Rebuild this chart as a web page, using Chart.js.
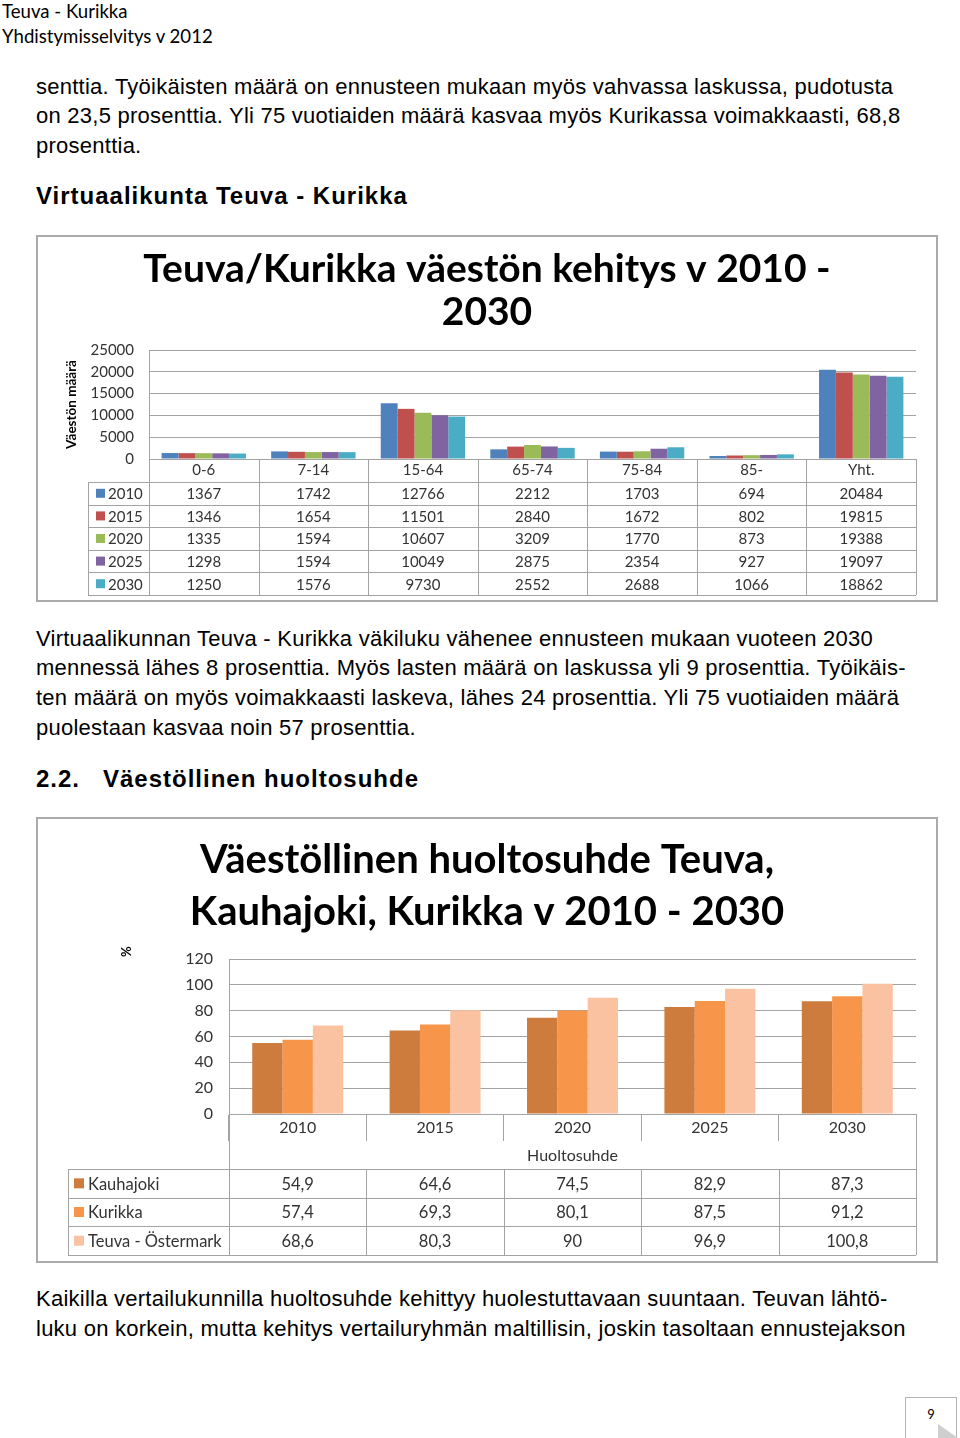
<!DOCTYPE html>
<html>
<head>
<meta charset="utf-8">
<script src="https://cdn.jsdelivr.net/npm/chart.js@4.4.1/dist/chart.umd.min.js"></script>
<style>
  body { margin: 0; background: #fff; }
  #page { position: relative; width: 960px; height: 1438px; overflow: hidden; background: #fff; }
  .hdr { position: absolute; left: 2px; font-family: Lato, sans-serif; font-size: 18.6px; line-height: 24px; color: #000; white-space: nowrap; }
  .txt { position: absolute; left: 36px; font-family: "Liberation Sans", Arial, sans-serif; font-size: 22px; letter-spacing: 0.25px; line-height: 30px; color: #000; white-space: nowrap; }
  .h { font-weight: bold; font-size: 24px; letter-spacing: 1px; }
  .box { position: absolute; left: 36px; width: 902px; box-sizing: border-box; border: 2px solid #ababab; background: #fff; }
  .box canvas { display: block; }
  #pnum { position: absolute; left: 905px; top: 1397px; width: 52px; height: 45px; box-sizing: border-box; border: 1px solid #b5b5b5; font-family: Lato, sans-serif; font-size: 13px; text-align: center; line-height: 32px; }
  #fold { position: absolute; left: 938px; top: 1424px; width: 0; height: 0; border-left: 20px solid #cfcfcf; border-top: 14px solid transparent; }
</style>
</head>
<body>
<div id="page">
  <div class="hdr" style="top:-1px">Teuva - Kurikka</div>
  <div class="hdr" style="top:24px">Yhdistymisselvitys v 2012</div>

  <div class="txt" style="top:72px">senttia. Työikäisten määrä on ennusteen mukaan myös vahvassa laskussa, pudotusta</div>
  <div class="txt" style="top:101px">on 23,5 prosenttia. Yli 75 vuotiaiden määrä kasvaa myös Kurikassa voimakkaasti, 68,8</div>
  <div class="txt" style="top:131px">prosenttia.</div>
  <div class="txt h" style="top:181px">Virtuaalikunta Teuva - Kurikka</div>

  <div class="box" style="top:235px; height:367px"><canvas id="vaesto" width="898" height="363"></canvas></div>

  <div class="txt" style="top:624px">Virtuaalikunnan Teuva - Kurikka väkiluku vähenee ennusteen mukaan vuoteen 2030</div>
  <div class="txt" style="top:653px">mennessä lähes 8 prosenttia. Myös lasten määrä on laskussa yli 9 prosenttia. Työikäis-</div>
  <div class="txt" style="top:683px">ten määrä on myös voimakkaasti laskeva, lähes 24 prosenttia. Yli 75 vuotiaiden määrä</div>
  <div class="txt" style="top:713px">puolestaan kasvaa noin 57 prosenttia.</div>
  <div class="txt h" style="top:764px">2.2.</div>
  <div class="txt h" style="top:764px; left:103px">Väestöllinen huoltosuhde</div>

  <div class="box" style="top:817px; height:446px"><canvas id="huolto" width="898" height="442"></canvas></div>

  <div class="txt" style="top:1284px">Kaikilla vertailukunnilla huoltosuhde kehittyy huolestuttavaan suuntaan. Teuvan lähtö-</div>
  <div class="txt" style="top:1314px">luku on korkein, mutta kehitys vertailuryhmän maltillisin, joskin tasoltaan ennustejakson</div>

  <div id="pnum">9</div>
  <div id="fold"></div>
</div>

<script>
// Väestö 2010 - 2030 (Teuva/Kurikka)
const ikaryhmat = ["0-6", "7-14", "15-64", "65-74", "75-84", "85-", "Yht."];
const vuodet1 = ["2010", "2015", "2020", "2025", "2030"];
const v2010 = [1367, 1742, 12766, 2212, 1703, 694, 20484];
const v2015 = [1346, 1654, 11501, 2840, 1672, 802, 19815];
const v2020 = [1335, 1594, 10607, 3209, 1770, 873, 19388];
const v2025 = [1298, 1594, 10049, 2875, 2354, 927, 19097];
const v2030 = [1250, 1576, 9730, 2552, 2688, 1066, 18862];
const vaestoTicks = [0, 5000, 10000, 15000, 20000, 25000];

// Huoltosuhde
const vuodet2 = ["2010", "2015", "2020", "2025", "2030"];
const kunnat = ["Kauhajoki", "Kurikka", "Teuva - Östermark"];
const kauhajoki = [54.9, 64.6, 74.5, 82.9, 87.3];
const kurikka = [57.4, 69.3, 80.1, 87.5, 91.2];
const teuva = [68.6, 80.3, 90, 96.9, 100.8];
const huoltoTicks = [0, 20, 40, 60, 80, 100, 120];

const varit1 = ["#4f81bd", "#c0504d", "#9bbb59", "#8064a2", "#4bacc6"];
const varit2 = ["#cd7c3d", "#f7964a", "#fbc2a2"];
const viiva = "#a3a3a3";
const tekstiVari = "#333333";
const fontti = "Lato, 'Open Sans', sans-serif";

Chart.defaults.font.family = fontti;
Chart.defaults.color = tekstiVari;

// piirtää taulukon x-akselin alle (kuten Excelin datataulukko)
const taulukkoPlugin = {
  id: "taulukko",
  afterDraw(chart, args, opts) {
    const ctx = chart.ctx;
    const area = chart.chartArea;
    const x = chart.scales.x;
    const n = chart.data.labels.length;
    const colW = (area.right - area.left) / n;
    const y0 = area.bottom;
    const tTop = y0 + opts.headerH;
    const rows = chart.data.datasets.length;
    const tBottom = tTop + rows * opts.rowH;

    ctx.save();
    ctx.strokeStyle = viiva;
    ctx.lineWidth = 1;
    ctx.beginPath();
    // vaakaviivat
    for (let r = 0; r <= rows; r++) {
      const yy = Math.round(tTop + r * opts.rowH) + 0.5;
      ctx.moveTo(opts.labelLeft, yy);
      ctx.lineTo(area.right, yy);
    }
    // pystyviivat
    for (let k = 0; k <= n; k++) {
      const xx = Math.round(area.left + k * colW) + 0.5;
      const top = (k === 0 || k === n) ? y0 : y0 + opts.innerTop;
      ctx.moveTo(xx, top);
      ctx.lineTo(xx, tBottom);
    }
    ctx.moveTo(opts.labelLeft + 0.5, tTop);
    ctx.lineTo(opts.labelLeft + 0.5, tBottom);
    ctx.stroke();

    ctx.font = opts.fontSize + "px " + fontti;
    ctx.textBaseline = "middle";
    chart.data.datasets.forEach(function (ds, r) {
      const cy = tTop + (r + 0.5) * opts.rowH;
      ctx.fillStyle = ds.backgroundColor;
      ctx.fillRect(opts.labelLeft + opts.boxOff, cy - opts.boxSize / 2, opts.boxSize, opts.boxSize);
      ctx.fillStyle = tekstiVari;
      ctx.textAlign = "left";
      ctx.fillText(ds.label, opts.labelLeft + opts.textOff, cy + 1);
      ctx.textAlign = "center";
      ds.data.forEach(function (v, i) {
        ctx.fillText(opts.format(v), x.getPixelForValue(i), cy + 1);
      });
    });

    // y-akselin nimi akselin yläpäähän (vain huoltosuhde)
    if (opts.yNimi) {
      ctx.translate(opts.yNimi.x, area.top + opts.yNimi.dy);
      ctx.rotate(-Math.PI / 2);
      ctx.font = "bold 13px " + fontti;
      ctx.fillStyle = "#000";
      ctx.textAlign = "left";
      ctx.fillText(opts.yNimi.text, 0, 0);
    }
    ctx.restore();
  }
};

function fixWidth(w) {
  return function (scale) { scale.width = w; };
}
function fixHeight(h) {
  return function (scale) { scale.height = h; };
}

new Chart(document.getElementById("vaesto"), {
  type: "bar",
  data: {
    labels: ikaryhmat,
    datasets: [v2010, v2015, v2020, v2025, v2030].map(function (d, i) {
      return { label: vuodet1[i], data: d, backgroundColor: varit1[i], borderWidth: 0,
               categoryPercentage: 0.77, barPercentage: 1 };
    })
  },
  options: {
    responsive: false,
    animation: false,
    devicePixelRatio: 1,
    layout: { padding: { left: 20, right: 20, top: 0, bottom: 5 } },
    plugins: {
      legend: { display: false },
      tooltip: { enabled: false },
      title: {
        display: true,
        text: ["Teuva/Kurikka väestön kehitys v 2010 -", "2030"],
        color: "#000",
        font: { size: 39, weight: "bold", lineHeight: 43 / 39 },
        padding: { top: 10.5, bottom: 16.5 }
      },
      taulukko: {
        headerH: 23, rowH: 22.6, innerTop: 0, labelLeft: 50,
        boxOff: 8, boxSize: 9, textOff: 20, fontSize: 15,
        format: function (v) { return String(v); }
      }
    },
    scales: {
      x: {
        grid: { display: false, drawTicks: false },
        border: { display: true, color: viiva },
        ticks: { font: { size: 15 }, padding: 2.5, color: tekstiVari, maxRotation: 0 },
        afterFit: fixHeight(136)
      },
      y: {
        min: 0, max: 25000,
        afterBuildTicks: function (scale) { scale.ticks = vaestoTicks.map(function (v) { return { value: v }; }); },
        grid: { color: viiva, drawTicks: false },
        border: { display: true, color: viiva },
        ticks: { font: { size: 15 }, padding: 15, color: tekstiVari,
                 callback: function (v) { return String(v); } },
        title: { display: true, text: "Väestön määrä", color: "#000",
                 font: { size: 13.5, weight: "bold" }, padding: { top: 6, bottom: 0 } },
        afterFit: fixWidth(91)
      }
    }
  },
  plugins: [taulukkoPlugin]
});

new Chart(document.getElementById("huolto"), {
  type: "bar",
  data: {
    labels: vuodet2,
    datasets: [kauhajoki, kurikka, teuva].map(function (d, i) {
      return { label: kunnat[i], data: d, backgroundColor: varit2[i], borderWidth: 0,
               categoryPercentage: 0.662, barPercentage: 1 };
    })
  },
  options: {
    responsive: false,
    animation: false,
    devicePixelRatio: 1,
    layout: { padding: { left: 20, right: 20, top: 0, bottom: 6 } },
    plugins: {
      legend: { display: false },
      tooltip: { enabled: false },
      title: {
        display: true,
        text: ["Väestöllinen huoltosuhde Teuva,", "Kauhajoki, Kurikka v 2010 - 2030"],
        color: "#000",
        font: { size: 40, weight: "bold", lineHeight: 52 / 40 },
        padding: { top: 15, bottom: 21 }
      },
      taulukko: {
        headerH: 55, rowH: 28.67, innerTop: 55, labelLeft: 30,
        boxOff: 6, boxSize: 10, textOff: 20, fontSize: 16.5,
        format: function (v) { return String(v).replace(".", ","); },
        yNimi: { text: "%", x: 89, dy: -2 }
      }
    },
    scales: {
      x: {
        grid: { display: true, drawOnChartArea: false, drawTicks: true, tickLength: 27, color: viiva },
        border: { display: true, color: viiva },
        ticks: { font: { size: 16 }, padding: -22.6, color: tekstiVari, maxRotation: 0 },
        title: { display: true, text: "Huoltosuhde", color: tekstiVari,
                 font: { size: 16 }, padding: { top: 0, bottom: 89.4 } },
        afterFit: fixHeight(141)
      },
      y: {
        min: 0, max: 120,
        afterBuildTicks: function (scale) { scale.ticks = huoltoTicks.map(function (v) { return { value: v }; }); },
        grid: { color: viiva, drawTicks: false },
        border: { display: true, color: viiva },
        ticks: { font: { size: 16 }, padding: 16, color: tekstiVari },
        afterFit: fixWidth(171)
      }
    }
  },
  plugins: [taulukkoPlugin]
});
</script>
</body>
</html>
